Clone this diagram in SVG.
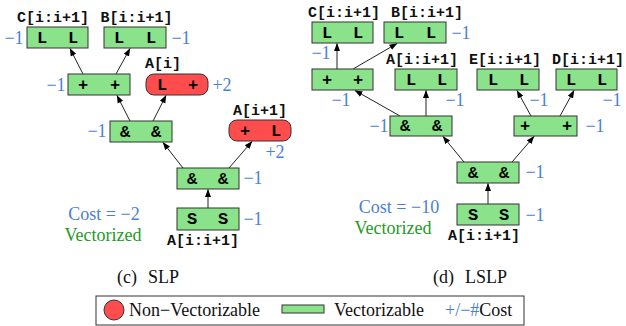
<svg xmlns="http://www.w3.org/2000/svg" width="626" height="326" viewBox="0 0 626 326">
<style>
.v{fill:#8ae38a;stroke:#333;stroke-width:1}
.n{fill:#ff4d4d;stroke:#333;stroke-width:1}
.op{font-family:"Liberation Mono",monospace;font-weight:bold;font-size:17px;fill:#000;text-anchor:middle}
.lb{font-family:"Liberation Mono",monospace;font-weight:bold;font-size:15px;fill:#111}
.c{font-family:"Liberation Serif",serif;font-size:18px;fill:#4a7fd6;text-anchor:middle}
.cost{font-family:"Liberation Serif",serif;font-size:18px;fill:#4a7fd6;text-anchor:middle}
.vec{font-family:"Liberation Serif",serif;font-size:18px;fill:#1f9a1f;text-anchor:middle}
.cap{font-family:"Liberation Serif",serif;font-size:18px;fill:#111}
.e{stroke:#222;stroke-width:1;fill:none;marker-end:url(#ah)}
</style>
<defs>
<marker id="ah" markerUnits="userSpaceOnUse" markerWidth="8" markerHeight="8" viewBox="0 0 8 8" refX="7.5" refY="4" orient="auto">
<path d="M0,1 L8,4 L0,7 Z" fill="#000"/>
</marker>
</defs>
<g id="connectors">
<line class="e" x1="83" y1="74" x2="70" y2="48.5"/>
<line class="e" x1="116" y1="74" x2="130" y2="48.5"/>
<line class="e" x1="130" y1="121" x2="117" y2="95.5"/>
<line class="e" x1="153" y1="121" x2="166" y2="95.5"/>
<line class="e" x1="183" y1="168" x2="163" y2="142.5"/>
<line class="e" x1="229" y1="168" x2="252" y2="141.5"/>
<line class="e" x1="208" y1="208" x2="208" y2="189.5"/>
<line class="e" x1="337" y1="69" x2="337" y2="43.5"/>
<line class="e" x1="353" y1="69" x2="397" y2="43.5"/>
<line class="e" x1="400" y1="116" x2="355" y2="90.5"/>
<line class="e" x1="426" y1="116" x2="426" y2="90.5"/>
<line class="e" x1="531" y1="116" x2="517" y2="90.5"/>
<line class="e" x1="560" y1="116" x2="574" y2="90.5"/>
<line class="e" x1="464" y1="162" x2="443" y2="136.5"/>
<line class="e" x1="512" y1="162" x2="534" y2="136.5"/>
<line class="e" x1="488" y1="204" x2="488" y2="183.5"/>
</g>
<g id="slp-C"><rect class="v" x="27" y="27" width="61" height="21"/><text class="op" x="42" y="43">L</text><text class="op" x="73" y="43">L</text><text class="lb" x="53" y="22" text-anchor="middle">C[i:i+1]</text><text class="c" x="14" y="44">−1</text></g>
<g id="slp-B"><rect class="v" x="104" y="27" width="62" height="21"/><text class="op" x="119" y="43">L</text><text class="op" x="151" y="43">L</text><text class="lb" x="136.5" y="22" text-anchor="middle">B[i:i+1]</text><text class="c" x="181" y="44">−1</text></g>
<g id="slp-add"><rect class="v" x="68" y="74" width="62" height="21"/><text class="op" x="83" y="90">+</text><text class="op" x="115" y="90">+</text><text class="c" x="56" y="91">−1</text></g>
<g id="slp-Ai"><rect class="n" x="146" y="74" width="62" height="21" rx="8"/><text class="op" x="162" y="90">L</text><text class="op" x="193" y="90">+</text><text class="lb" x="145" y="68">A[i]</text><text class="c" x="222" y="91">+2</text></g>
<g id="slp-and1"><rect class="v" x="110" y="121" width="62" height="21"/><text class="op" x="125" y="137">&amp;</text><text class="op" x="156" y="137">&amp;</text><text class="c" x="97" y="137">−1</text></g>
<g id="slp-Ai1"><rect class="n" x="229" y="120" width="62" height="21" rx="8"/><text class="op" x="245" y="136">+</text><text class="op" x="276" y="136">L</text><text class="lb" x="233" y="115">A[i+1]</text><text class="c" x="275" y="158">+2</text></g>
<g id="slp-and2"><rect class="v" x="177" y="168" width="62" height="21"/><text class="op" x="192" y="184">&amp;</text><text class="op" x="223" y="184">&amp;</text><text class="c" x="253" y="184">−1</text></g>
<g id="slp-S"><rect class="v" x="177" y="208" width="62" height="22"/><text class="op" x="192" y="224">S</text><text class="op" x="223" y="224">S</text><text class="lb" x="203" y="245" text-anchor="middle">A[i:i+1]</text><text class="c" x="253" y="225">−1</text></g>
<g id="slp-cost"><text class="cost" x="104" y="220">Cost = −2</text><text class="vec" x="103" y="241">Vectorized</text></g>
<text class="cap" x="117" y="283">(c)<tspan x="148">SLP</tspan></text>

<g id="lslp-C"><rect class="v" x="312" y="22" width="61" height="21"/><text class="op" x="327" y="38">L</text><text class="op" x="358" y="38">L</text><text class="lb" x="344" y="17" text-anchor="middle">C[i:i+1]</text><text class="c" x="321" y="59">−1</text></g>
<g id="lslp-B"><rect class="v" x="384" y="22" width="62" height="21"/><text class="op" x="399" y="38">L</text><text class="op" x="431" y="38">L</text><text class="lb" x="427" y="17" text-anchor="middle">B[i:i+1]</text><text class="c" x="461" y="39">−1</text></g>
<g id="lslp-add1"><rect class="v" x="312" y="69" width="61" height="21"/><text class="op" x="327" y="85">+</text><text class="op" x="358" y="85">+</text><text class="c" x="341" y="106">−1</text></g>
<g id="lslp-A"><rect class="v" x="395" y="69" width="62" height="21"/><text class="op" x="411" y="85">L</text><text class="op" x="442" y="85">L</text><text class="lb" x="422" y="64" text-anchor="middle">A[i:i+1]</text><text class="c" x="455" y="106">−1</text></g>
<g id="lslp-E"><rect class="v" x="477" y="69" width="62" height="21"/><text class="op" x="493" y="85">L</text><text class="op" x="524" y="85">L</text><text class="lb" x="505" y="64" text-anchor="middle">E[i:i+1]</text><text class="c" x="539" y="106">−1</text></g>
<g id="lslp-D"><rect class="v" x="556" y="69" width="61" height="21"/><text class="op" x="571" y="85">L</text><text class="op" x="602" y="85">L</text><text class="lb" x="588" y="64" text-anchor="middle">D[i:i+1]</text><text class="c" x="612" y="106">−1</text></g>
<g id="lslp-and1"><rect class="v" x="390" y="116" width="62" height="20"/><text class="op" x="405" y="131">&amp;</text><text class="op" x="437" y="131">&amp;</text><text class="c" x="379" y="132">−1</text></g>
<g id="lslp-add2"><rect class="v" x="514" y="116" width="63" height="20"/><text class="op" x="525" y="131">+</text><text class="op" x="567" y="131">+</text><text class="c" x="595" y="132">−1</text></g>
<g id="lslp-and2"><rect class="v" x="457" y="162" width="62" height="21"/><text class="op" x="473" y="178">&amp;</text><text class="op" x="504" y="178">&amp;</text><text class="c" x="535" y="178">−1</text></g>
<g id="lslp-S"><rect class="v" x="457" y="204" width="62" height="21"/><text class="op" x="473" y="220">S</text><text class="op" x="504" y="220">S</text><text class="lb" x="484" y="240" text-anchor="middle">A[i:i+1]</text><text class="c" x="535" y="221">−1</text></g>
<g id="lslp-cost"><text class="cost" x="399" y="213">Cost = −10</text><text class="vec" x="393" y="234">Vectorized</text></g>
<text class="cap" x="433" y="283">(d)<tspan x="465">LSLP</tspan></text>

<g id="legend">
<rect x="96" y="296" width="428" height="29" fill="#fff" stroke="#333" stroke-width="1"/>
<circle cx="114" cy="310" r="10" fill="#ff4d4d" stroke="#333" stroke-width="1"/>
<text class="cap" x="129" y="316">Non−Vectorizable</text>
<rect class="v" x="282" y="305" width="42" height="8"/>
<text class="cap" x="334" y="316">Vectorizable</text>
<text class="cap" x="445" y="316"><tspan fill="#4a7fd6">+/−#</tspan>Cost</text>
</g>
</svg>
